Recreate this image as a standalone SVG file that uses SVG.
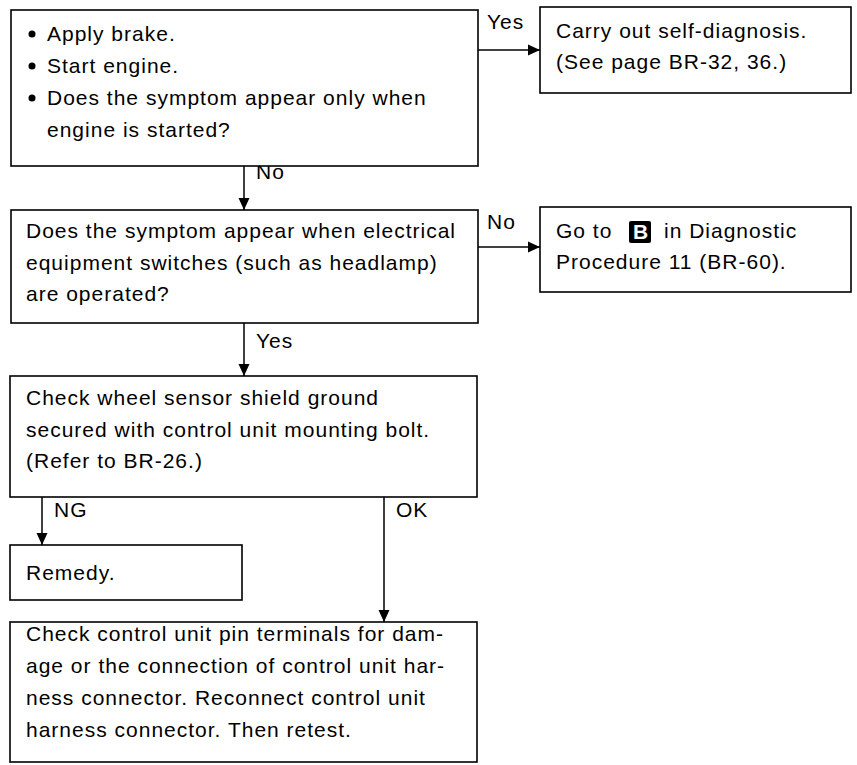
<svg xmlns="http://www.w3.org/2000/svg" width="857" height="765" viewBox="0 0 857 765">
<defs>
<style>
.box{fill:#fff;stroke:#000;stroke-width:1.6}
.t{font-family:"Liberation Sans",Arial,sans-serif;font-size:21px;letter-spacing:1px;fill:#000}
.c{stroke:#000;stroke-width:1.5;fill:none}
</style>
<marker id="ah" viewBox="0 0 12 12" refX="12" refY="6" markerWidth="12" markerHeight="12" markerUnits="userSpaceOnUse" orient="auto">
<path d="M0,0.5 L12,6 L0,11.5 Z" fill="#000"/>
</marker>
</defs>
<rect width="857" height="765" fill="#fff"/>
<g id="connectors">
<line class="c" x1="478" y1="50" x2="540" y2="50" marker-end="url(#ah)"/>
<text class="t" x="487" y="29">Yes</text>
<line class="c" x1="244" y1="166" x2="244" y2="210" marker-end="url(#ah)"/>
<text class="t" x="256" y="179">No</text>
<line class="c" x1="478" y1="247" x2="540" y2="247" marker-end="url(#ah)"/>
<text class="t" x="487" y="229">No</text>
<line class="c" x1="244" y1="323" x2="244" y2="376" marker-end="url(#ah)"/>
<text class="t" x="256" y="348">Yes</text>
<line class="c" x1="42" y1="497" x2="42" y2="545" marker-end="url(#ah)"/>
<text class="t" x="54" y="517">NG</text>
<line class="c" x1="384" y1="497" x2="384" y2="622" marker-end="url(#ah)"/>
<text class="t" x="396" y="517">OK</text>
</g>
<g id="n1">
<rect class="box" x="11" y="10" width="467" height="156"/>
<circle cx="32" cy="34" r="3.5"/>
<circle cx="32" cy="66" r="3.5"/>
<circle cx="32" cy="98" r="3.5"/>
<text class="t" x="47" y="41">Apply brake.</text>
<text class="t" x="47" y="73">Start engine.</text>
<text class="t" x="47" y="105">Does the symptom appear only when</text>
<text class="t" x="47" y="137">engine is started?</text>
</g>
<g id="n2">
<rect class="box" x="540" y="7" width="311" height="86"/>
<text class="t" x="556" y="38">Carry out self-diagnosis.</text>
<text class="t" x="556" y="69">(See page BR-32, 36.)</text>
</g>
<g id="n3">
<rect class="box" x="11" y="210" width="467" height="113"/>
<text class="t" x="26" y="238">Does the symptom appear when electrical</text>
<text class="t" x="26" y="270">equipment switches (such as headlamp)</text>
<text class="t" x="26" y="301">are operated?</text>
</g>
<g id="n4">
<rect class="box" x="540" y="207" width="311" height="85"/>
<text class="t" x="556" y="238">Go to</text>
<rect x="629" y="221" width="22" height="22" rx="2" fill="#000"/>
<text class="t" x="633" y="239" style="fill:#fff;font-weight:bold;letter-spacing:0">B</text>
<text class="t" x="664" y="238">in Diagnostic</text>
<text class="t" x="556" y="269">Procedure 11 (BR-60).</text>
</g>
<g id="n5">
<rect class="box" x="10" y="376" width="467" height="121"/>
<text class="t" x="26" y="405">Check wheel sensor shield ground</text>
<text class="t" x="26" y="437">secured with control unit mounting bolt.</text>
<text class="t" x="26" y="468">(Refer to BR-26.)</text>
</g>
<g id="n6">
<rect class="box" x="10" y="545" width="232" height="55"/>
<text class="t" x="26" y="580">Remedy.</text>
</g>
<g id="n7">
<rect class="box" x="10" y="622" width="467" height="140"/>
<text class="t" x="26" y="641">Check control unit pin terminals for dam-</text>
<text class="t" x="26" y="673">age or the connection of control unit har-</text>
<text class="t" x="26" y="705">ness connector. Reconnect control unit</text>
<text class="t" x="26" y="737">harness connector. Then retest.</text>
</g>
</svg>
